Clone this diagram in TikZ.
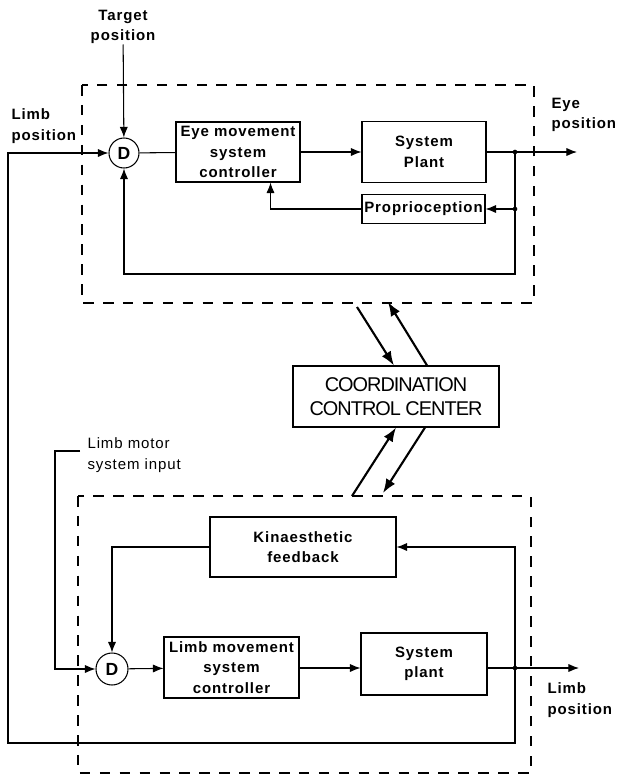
\documentclass[tikz,border=0pt]{standalone}
\usepackage{fontspec}
\setmainfont{Liberation Sans}
\newfontfamily\lblfont[LetterSpace=6]{Liberation Sans}
\newfontfamily\ccfont[LetterSpace=-5]{Liberation Sans}
\usepackage{tikz}
\usetikzlibrary{arrows.meta,calc,shapes.geometric}

\begin{document}
\begin{tikzpicture}[x=0.03cm,y=-0.03cm,
	line width=0.9pt,
	>={Latex[length=9pt,width=7pt]},
	blk/.style={draw,rectangle,inner sep=0pt,align=center,font=\lblfont\bfseries\fontsize{12.8}{17.5}\selectfont},
	sumD/.style={draw,circle,minimum size=0.9cm,inner sep=0pt,font=\lblfont\bfseries\fontsize{15}{15}\selectfont},
	lbl/.style={align=left,inner sep=0pt,font=\lblfont\bfseries\fontsize{12.8}{17.5}\selectfont},
	dashbox/.style={line width=1.1pt,dash pattern=on 9pt off 8pt},
	ccarrow/.style={line width=1.8pt,-{Latex[length=12pt,width=9pt]}},
	jdot/.style={circle,fill,inner sep=1.4pt}]
	\useasboundingbox (0,0) rectangle (617,776);
	% dashed system boundaries
	\draw[dashbox] (82,85) rectangle (534,303);
	\draw[dashbox] (78,496) rectangle (531,773);
	% eye movement system
	\node (target) at (123,27) [lbl,align=center] {Target\\position};
	\node (limbin) at (11,126) [lbl,anchor=west] {Limb\\position};
	\node (eyeout) at (551,115) [lbl,anchor=west] {Eye\\position};
	\node (eyeD) at (124,153) [sumD] {D};
	\node (eyectrl) at (238,152) [blk,minimum width=3.72cm,minimum height=1.8cm] {Eye movement\\system\\controller};
	\node (eyeplant) at (424,152) [blk,minimum width=3.72cm,minimum height=1.83cm] {System\\Plant};
	\node (proprio) at (423.5,209) [blk,minimum width=3.69cm,minimum height=0.87cm] {Proprioception};
	\coordinate (ej) at (515,152);
	\coordinate (pj) at (ej |- proprio.east);
	\coordinate (eb) at (515,274);
	\coordinate (eyeend) at (577,152);
	\draw[->] (target) -- (eyeD);
	\draw (eyeD) -- (eyectrl);
	\draw[->] (eyectrl) -- (eyeplant);
	\draw[->] (eyeplant.east) -- (eyeend);
	\draw[->] (ej) -- (pj) -- (proprio.east);
	\draw[->] (proprio.west) -| ($(eyectrl.south)!0.52!(eyectrl.south east)$);
	\draw[->] (pj) -- (eb) -| (eyeD.south);
	\node[jdot] at (ej) {};
	\node[jdot] at (pj) {};
	% coordination
	\node (coord) at (396,396.5) [draw,rectangle,minimum width=6.18cm,minimum height=1.83cm,align=center,font=\ccfont\fontsize{17}{21}\selectfont] {COORDINATION\\CONTROL CENTER};
	\coordinate (ca) at (357,307);
	\coordinate (cb) at (388,302);
	\coordinate (cc) at (352,496);
	\coordinate (cd) at (383,493);
	\draw[ccarrow] (ca) -- ($(coord.north west)!0.49!(coord.north east)$);
	\draw[ccarrow] ($(coord.north west)!0.65!(coord.north east)$) -- (cb);
	\draw[ccarrow] (cc) -- ($(coord.south west)!0.5!(coord.south east)$);
	\draw[ccarrow] ($(coord.south west)!0.64!(coord.south east)$) -- (cd);
	% limb movement system
	\node (limbmotor) at (87,455) [lbl,anchor=west,font=\lblfont\fontsize{12.8}{17.5}\selectfont] {Limb motor\\system input};
	\node (limbout) at (547,700) [lbl,anchor=west] {Limb\\position};
	\node (kin) at (303,547) [blk,minimum width=5.58cm,minimum height=1.8cm] {Kinaesthetic\\feedback};
	\node (limbD) at (112,669) [sumD,minimum size=0.96cm] {D};
	\node (limbctrl) at (231.5,667.5) [blk,minimum width=4.05cm,minimum height=1.83cm] {Limb movement\\system\\controller};
	\node (limbplant) at (424,664) [blk,minimum width=3.78cm,minimum height=1.86cm] {System\\plant};
	\coordinate (lj) at (515,668);
	\coordinate (lb) at (515,743);
	\coordinate (lc) at (8,743);
	\coordinate (limbend) at (579,668);
	\coordinate (mi) at (80,451);
	\coordinate (mc) at (55,451);
	\draw[->] (mi) -- (mc) |- (limbD.west);
	\draw[->] (limbD) -- (limbctrl);
	\draw[->] (limbctrl.east |- lj) -- (limbplant.west |- lj);
	\draw[->] (limbplant.east |- lj) -- (limbend);
	\draw[->] (lj) |- (kin.east);
	\draw[->] (kin.west) -| (limbD.north);
	\draw[->] (lj) -- (lb) -- (lc) |- (eyeD.west);
	\node[jdot] at (lj) {};
\end{tikzpicture}
\end{document}
